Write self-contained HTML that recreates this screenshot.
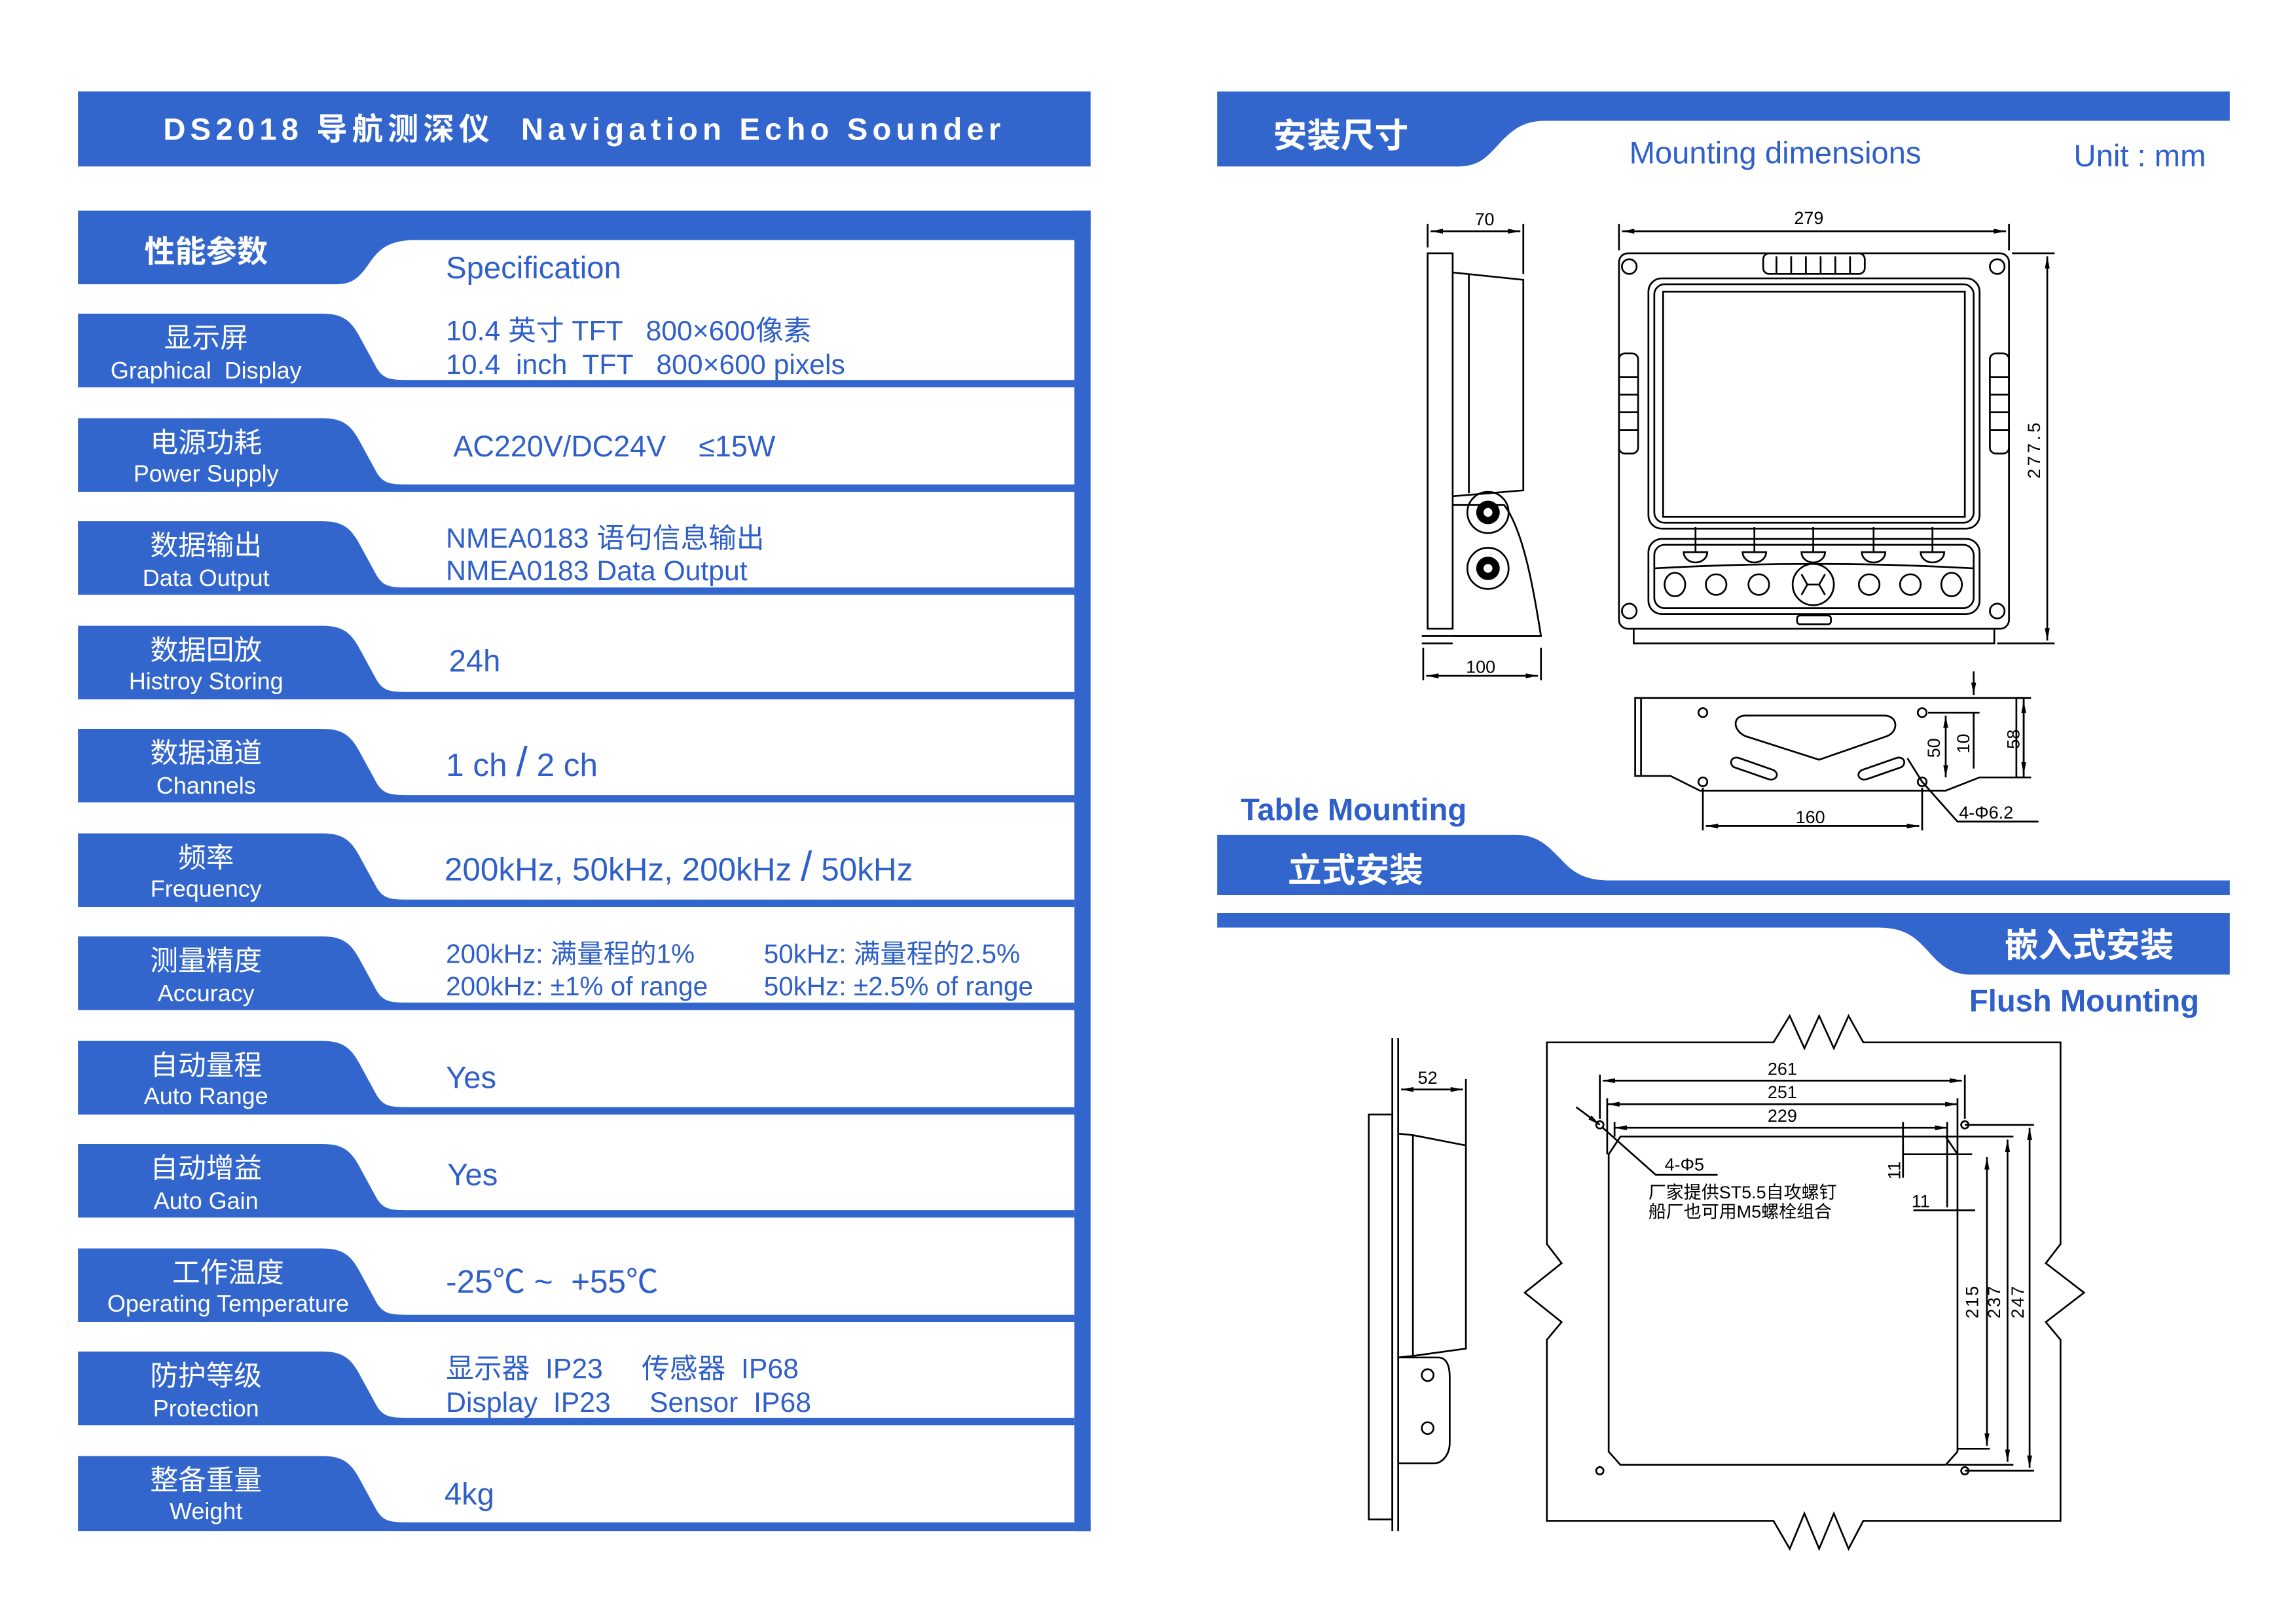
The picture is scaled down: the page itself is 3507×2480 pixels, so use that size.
<!DOCTYPE html>
<html><head><meta charset="utf-8"><style>
html,body{margin:0;padding:0;background:#fff;}
svg{display:block;}
text{white-space:pre;}
.w{fill:#fff;font-family:"Liberation Sans","Noto Sans CJK SC",sans-serif;}
.b{fill:#2f5fc8;font-family:"Liberation Sans","Noto Sans CJK SC",sans-serif;}
.d{fill:#000;font-family:"Liberation Sans","Noto Sans CJK SC",sans-serif;font-size:12px;}
.s{fill:none;stroke:#000;stroke-width:1.2;}
</style></head><body>
<svg width="3507" height="2480" viewBox="0 0 1560 1103" xmlns="http://www.w3.org/2000/svg" xml:space="preserve">
<defs>
<marker id="a" viewBox="0 0 10 10" refX="10" refY="5" markerWidth="7" markerHeight="7" orient="auto-start-reverse"><path d="M0,3 L10,5 L0,7 z" fill="#000"/></marker>
</defs>
<rect width="1560" height="1103" fill="#fff"/>
<rect x="53" y="62" width="688" height="51" fill="#3366cc"/>
<text x="397" y="95" text-anchor="middle" class="w" font-size="21" font-weight="bold" letter-spacing="3.2">DS2018 导航测深仪  Navigation Echo Sounder</text>

<rect x="53" y="143" width="688" height="20" fill="#3366cc"/>
<rect x="730" y="143" width="11" height="897" fill="#3366cc"/>
<path d="M53,163 H283 C265,163 258,168 250,180 C243,190 238,193 228,193 H53 Z" fill="#3366cc"/>
<text x="140" y="178" text-anchor="middle" class="w" font-size="21" font-weight="bold">性能参数</text>
<text x="303" y="189" class="b" font-size="21">Specification</text>

<g fill="#3366cc">
<path d="M53,213 H219 C232,213 238,217 244,228 L256,250 C261,258 266,258 280,258 H730 V263 H53 Z"/>
<path d="M53,284 H219 C232,284 238,288 244,299 L256,321 C261,329 266,329 280,329 H730 V334 H53 Z"/>
<path d="M53,354 H219 C232,354 238,358 244,369 L256,391 C261,399 266,399 280,399 H730 V404 H53 Z"/>
<path d="M53,425 H219 C232,425 238,429 244,440 L256,462 C261,470 266,470 280,470 H730 V475 H53 Z"/>
<path d="M53,495 H219 C232,495 238,499 244,510 L256,532 C261,540 266,540 280,540 H730 V545 H53 Z"/>
<path d="M53,566 H219 C232,566 238,570 244,581 L256,603 C261,611 266,611 280,611 H730 V616 H53 Z"/>
<path d="M53,636 H219 C232,636 238,640 244,651 L256,673 C261,681 266,681 280,681 H730 V686 H53 Z"/>
<path d="M53,707 H219 C232,707 238,711 244,722 L256,744 C261,752 266,752 280,752 H730 V757 H53 Z"/>
<path d="M53,777 H219 C232,777 238,781 244,792 L256,814 C261,822 266,822 280,822 H730 V827 H53 Z"/>
<path d="M53,848 H219 C232,848 238,852 244,863 L256,885 C261,893 266,893 280,893 H730 V898 H53 Z"/>
<path d="M53,918 H219 C232,918 238,922 244,933 L256,955 C261,963 266,963 280,963 H730 V968 H53 Z"/>
<path d="M53,989 H219 C232,989 238,993 244,1004 L256,1026 C261,1034 266,1034 280,1034 H741 V1040 H53 Z"/>
</g>
<g class="w" text-anchor="middle">
<text x="140" y="236" font-size="19">显示屏</text><text x="140" y="257" font-size="16">Graphical  Display</text>
<text x="140" y="307" font-size="19">电源功耗</text><text x="140" y="327" font-size="16">Power Supply</text>
<text x="140" y="377" font-size="19">数据输出</text><text x="140" y="398" font-size="16">Data Output</text>
<text x="140" y="448" font-size="19">数据回放</text><text x="140" y="468" font-size="16">Histroy Storing</text>
<text x="140" y="518" font-size="19">数据通道</text><text x="140" y="539" font-size="16">Channels</text>
<text x="140" y="589" font-size="19">频率</text><text x="140" y="609" font-size="16">Frequency</text>
<text x="140" y="659" font-size="19">测量精度</text><text x="140" y="680" font-size="16">Accuracy</text>
<text x="140" y="730" font-size="19">自动量程</text><text x="140" y="750" font-size="16">Auto Range</text>
<text x="140" y="800" font-size="19">自动增益</text><text x="140" y="821" font-size="16">Auto Gain</text>
<text x="155" y="871" font-size="19">工作温度</text><text x="155" y="891" font-size="16">Operating Temperature</text>
<text x="140" y="941" font-size="19">防护等级</text><text x="140" y="962" font-size="16">Protection</text>
<text x="140" y="1012" font-size="19">整备重量</text><text x="140" y="1032" font-size="16">Weight</text>
</g>
<g class="b">
<text x="303" y="231" font-size="19">10.4 英寸 TFT   800×600像素</text>
<text x="303" y="254" font-size="19">10.4  inch  TFT   800×600 pixels</text>
<text x="308" y="310" font-size="20">AC220V/DC24V    ≤15W</text>
<text x="303" y="372" font-size="19">NMEA0183 语句信息输出</text>
<text x="303" y="394" font-size="19">NMEA0183 Data Output</text>
<text x="305" y="456" font-size="21">24h</text>
<text x="303" y="527" font-size="22">1 ch <tspan font-size="28">/</tspan> 2 ch</text>
<text x="302" y="598" font-size="22">200kHz, 50kHz, 200kHz <tspan font-size="28">/</tspan> 50kHz</text>
<text x="303" y="654" font-size="18">200kHz: 满量程的1%</text>
<text x="519" y="654" font-size="18">50kHz: 满量程的2.5%</text>
<text x="303" y="676" font-size="18">200kHz: ±1% of range</text>
<text x="519" y="676" font-size="18">50kHz: ±2.5% of range</text>
<text x="303" y="739" font-size="21">Yes</text>
<text x="304" y="805" font-size="21">Yes</text>
<text x="303" y="878" font-size="22">-25℃ ~  +55℃</text>
<text x="303" y="936" font-size="19">显示器  IP23     传感器  IP68</text>
<text x="303" y="959" font-size="19">Display  IP23     Sensor  IP68</text>
<text x="302" y="1022" font-size="21">4kg</text>
</g>

<path d="M827,62 H1515 V82 H1050 C1035,82 1028,88 1020,96 C1010,107 1005,113 990,113 H827 Z" fill="#3366cc"/>
<text x="865" y="100" class="w" font-size="23" font-weight="bold">安装尺寸</text>
<text x="1107" y="111" class="b" font-size="21">Mounting dimensions</text>
<text x="1409" y="113" class="b" font-size="21">Unit : mm</text>
<text x="843" y="557" class="b" font-size="21" font-weight="bold">Table Mounting</text>
<path d="M827,567 H1030 C1045,567 1052,575 1060,583 C1070,594 1078,598 1095,598 H1515 V608 H827 Z" fill="#3366cc"/>
<text x="875" y="599" class="w" font-size="23" font-weight="bold">立式安装</text>
<path d="M827,620 H1515 V662 H1340 C1325,662 1318,655 1310,646 C1300,635 1293,630 1275,630 H827 Z" fill="#3366cc"/>
<text x="1362" y="650" class="w" font-size="23" font-weight="bold">嵌入式安装</text>
<text x="1338" y="687" class="b" font-size="21" font-weight="bold">Flush Mounting</text>

<g class="s">
<rect x="970" y="172" width="17" height="255"/>
<path d="M987,185 L1035,190 V333 L987,337"/>
<line x1="998" y1="186" x2="998" y2="335"/>
<path d="M987,343 H1022 C1035,360 1042,400 1047,432 H987"/>
<line x1="966" y1="432" x2="1047" y2="432"/>
<line x1="966" y1="437" x2="987" y2="437"/>
<circle cx="1011" cy="348" r="14"/><circle cx="1011" cy="386" r="14"/>
<line x1="970" y1="152" x2="970" y2="168"/><line x1="1035" y1="152" x2="1035" y2="186"/>
<line x1="972" y1="157" x2="1033" y2="157" marker-start="url(#a)" marker-end="url(#a)"/>
<line x1="967" y1="440" x2="967" y2="462"/><line x1="1047" y1="440" x2="1047" y2="462"/>
<line x1="969" y1="459" x2="1045" y2="459" marker-start="url(#a)" marker-end="url(#a)"/>
</g>
<g fill="#000"><circle cx="1011" cy="348" r="8"/><circle cx="1011" cy="386" r="8"/></g>
<g fill="#fff"><circle cx="1011" cy="348" r="3"/><circle cx="1011" cy="386" r="3"/></g>
<text x="1002" y="153" class="d">70</text>
<text x="996" y="457" class="d">100</text>

<g class="s">
<rect x="1100" y="172" width="265" height="255" rx="6"/>
<path d="M1110,427 V437 H1355 V427"/>
<rect x="1120" y="189" width="225" height="170" rx="9"/>
<rect x="1124" y="193" width="217" height="162" rx="7"/>
<rect x="1130" y="198" width="205" height="153"/>
<rect x="1198" y="172" width="69" height="14" rx="4"/>
<path d="M1207,174 V186 M1217,174 V186 M1227,174 V186 M1237,174 V186 M1247,174 V186 M1257,174 V186"/>
<rect x="1100" y="240" width="13" height="68" rx="4"/><rect x="1352" y="240" width="13" height="68" rx="4"/>
<path d="M1100,256 H1113 M1100,268 H1113 M1100,280 H1113 M1100,292 H1113 M1352,256 H1365 M1352,268 H1365 M1352,280 H1365 M1352,292 H1365"/>
<circle cx="1107" cy="181" r="5"/><circle cx="1357" cy="181" r="5"/><circle cx="1107" cy="415" r="5"/><circle cx="1357" cy="415" r="5"/>
<rect x="1120" y="366" width="225" height="51" rx="9"/>
<rect x="1124" y="370" width="217" height="43" rx="7"/>
<path d="M1124,386 Q1232,380 1341,386"/>
<path d="M1152,358 V375 M1192,358 V375 M1232,358 V375 M1273,358 V375 M1313,358 V375"/>
<path d="M1144,375 H1160 A8,7 0 0 1 1144,375 Z M1184,375 H1200 A8,7 0 0 1 1184,375 Z M1224,375 H1240 A8,7 0 0 1 1224,375 Z M1265,375 H1281 A8,7 0 0 1 1265,375 Z M1305,375 H1321 A8,7 0 0 1 1305,375 Z"/>
<ellipse cx="1138" cy="397" rx="7" ry="8"/><circle cx="1166" cy="397" r="7"/><circle cx="1195" cy="397" r="7"/>
<circle cx="1232" cy="397" r="14"/><path d="M1224,390 L1228,397 L1224,404 M1240,390 L1236,397 L1240,404 M1228,397 H1236"/>
<circle cx="1270" cy="397" r="7"/><circle cx="1298" cy="397" r="7"/><ellipse cx="1326" cy="397" rx="7" ry="8"/>
<rect x="1221" y="418" width="23" height="6" rx="2"/>
<line x1="1100" y1="152" x2="1100" y2="170"/><line x1="1365" y1="152" x2="1365" y2="170"/>
<line x1="1102" y1="157" x2="1363" y2="157" marker-start="url(#a)" marker-end="url(#a)"/>
<line x1="1367" y1="172" x2="1396" y2="172"/><line x1="1357" y1="437" x2="1396" y2="437"/>
<line x1="1391" y1="174" x2="1391" y2="435" marker-start="url(#a)" marker-end="url(#a)"/>
</g>
<text x="1229" y="152" class="d" text-anchor="middle">279</text>
<text transform="translate(1386,305) rotate(-90)" class="d" text-anchor="middle" letter-spacing="2">277.5</text>

<g class="s">
<path d="M1111,474 H1375 V528 H1345 L1322,537 H1155 L1135,527 H1111 Z"/>
<line x1="1115" y1="474" x2="1115" y2="527"/><line x1="1370" y1="474" x2="1370" y2="528"/>
<circle cx="1157" cy="484" r="3"/><circle cx="1306" cy="484" r="3"/><circle cx="1157" cy="531" r="3"/><circle cx="1306" cy="531" r="3"/>
<path d="M1186,486 H1280 C1290,486 1290,497 1282,500 L1236,516 L1186,500 C1177,496 1177,486 1186,486 Z"/>
<path d="M1182,515 L1205,523 C1210,526 1206,531 1201,529 L1178,521 C1174,518 1177,513 1182,515 Z"/>
<path d="M1288,515 L1265,523 C1260,526 1264,531 1269,529 L1292,521 C1296,518 1293,513 1288,515 Z"/>
<line x1="1157" y1="535" x2="1157" y2="564"/><line x1="1306" y1="535" x2="1306" y2="564"/>
<line x1="1159" y1="561" x2="1304" y2="561" marker-start="url(#a)" marker-end="url(#a)"/>
<line x1="1322" y1="486" x2="1322" y2="528" marker-start="url(#a)" marker-end="url(#a)"/>
<line x1="1310" y1="484" x2="1345" y2="484"/>
<line x1="1341" y1="456" x2="1341" y2="472" marker-end="url(#a)"/>
<line x1="1341" y1="484" x2="1341" y2="522"/>
<line x1="1375" y1="476" x2="1375" y2="526" marker-start="url(#a)" marker-end="url(#a)"/>
<line x1="1370" y1="474" x2="1380" y2="474"/><line x1="1370" y1="528" x2="1380" y2="528"/>
<path d="M1296,515 L1306,531 L1330,558 H1385"/>
</g>
<text x="1230" y="559" class="d" text-anchor="middle">160</text>
<text transform="translate(1318,508) rotate(-90)" class="d" text-anchor="middle">50</text>
<text transform="translate(1338,505) rotate(-90)" class="d" text-anchor="middle">10</text>
<text transform="translate(1372,502) rotate(-90)" class="d" text-anchor="middle">58</text>
<text x="1331" y="556" class="d">4-Φ6.2</text>

<g class="s">
<line x1="946" y1="705" x2="946" y2="1040"/><line x1="950" y1="705" x2="950" y2="1040"/>
<rect x="930" y="757" width="16" height="275"/>
<path d="M950,770 L960,771 L996,778 V916 L960,921 L950,922"/>
<line x1="960" y1="771" x2="960" y2="921"/>
<path d="M950,922 H977 C983,922 985,928 985,935 V980 C985,988 980,994 974,994 H950"/>
<circle cx="970" cy="934" r="4"/><circle cx="970" cy="970" r="4"/>
<line x1="996" y1="733" x2="996" y2="778"/>
<line x1="952" y1="740" x2="994" y2="740" marker-start="url(#a)" marker-end="url(#a)"/>
</g>
<text x="970" y="736" class="d" text-anchor="middle">52</text>

<g class="s">
<path d="M1051,708 H1205 L1216,690 L1226,712 L1236,690 L1246,712 L1256,690 L1266,708 H1400 V845 L1390,858 L1416,878 L1390,898 L1400,910 V1033 H1266 L1256,1052 L1246,1028 L1236,1052 L1226,1028 L1216,1052 L1205,1033 H1051 V910 L1061,898 L1036,878 L1061,858 L1051,845 Z"/>
<path d="M1101,772 H1322 L1330,784 V986 L1322,995 H1101 L1093,986 V784 Z"/>
<circle cx="1087" cy="764" r="2.5"/><circle cx="1335" cy="764" r="2.5"/><circle cx="1087" cy="999" r="2.5"/><circle cx="1335" cy="999" r="2.5"/>
<line x1="1089" y1="734" x2="1333" y2="734" marker-start="url(#a)" marker-end="url(#a)"/>
<line x1="1092" y1="750" x2="1330" y2="750" marker-start="url(#a)" marker-end="url(#a)"/>
<line x1="1097" y1="766" x2="1323" y2="766" marker-start="url(#a)" marker-end="url(#a)"/>
<line x1="1087" y1="730" x2="1087" y2="760"/><line x1="1335" y1="730" x2="1335" y2="760"/>
<line x1="1092" y1="746" x2="1092" y2="784"/><line x1="1330" y1="746" x2="1330" y2="784"/>
<line x1="1097" y1="762" x2="1097" y2="772"/><line x1="1323" y1="762" x2="1323" y2="820"/>
<line x1="1071" y1="752" x2="1087" y2="764" marker-end="url(#a)"/>
<path d="M1089,766 L1125,798 H1167"/>
<line x1="1293" y1="762" x2="1293" y2="800"/>
<line x1="1293" y1="784" x2="1340" y2="784"/>
<line x1="1300" y1="822" x2="1342" y2="822"/>
<line x1="1335" y1="764" x2="1382" y2="764"/><line x1="1323" y1="772" x2="1368" y2="772"/>
<line x1="1330" y1="984" x2="1352" y2="984"/><line x1="1323" y1="995" x2="1368" y2="995"/><line x1="1335" y1="999" x2="1382" y2="999"/>
<line x1="1350" y1="786" x2="1350" y2="982" marker-start="url(#a)" marker-end="url(#a)"/>
<line x1="1364" y1="774" x2="1364" y2="993" marker-start="url(#a)" marker-end="url(#a)"/>
<line x1="1379" y1="766" x2="1379" y2="997" marker-start="url(#a)" marker-end="url(#a)"/>
</g>
<text x="1211" y="730" class="d" text-anchor="middle">261</text>
<text x="1211" y="746" class="d" text-anchor="middle">251</text>
<text x="1211" y="762" class="d" text-anchor="middle">229</text>
<text x="1131" y="795" class="d">4-Φ5</text>
<text x="1120" y="814" class="d" font-size="11">厂家提供ST5.5自攻螺钉</text>
<text x="1120" y="827" class="d" font-size="11">船厂也可用M5螺栓组合</text>
<text transform="translate(1291,795) rotate(-90)" class="d" text-anchor="middle">11</text>
<text x="1305" y="820" class="d" text-anchor="middle">11</text>
<text transform="translate(1344,884) rotate(-90)" class="d" text-anchor="middle" letter-spacing="1">215</text>
<text transform="translate(1359,884) rotate(-90)" class="d" text-anchor="middle" letter-spacing="1">237</text>
<text transform="translate(1375,884) rotate(-90)" class="d" text-anchor="middle" letter-spacing="1">247</text>
</svg>
</body></html>
